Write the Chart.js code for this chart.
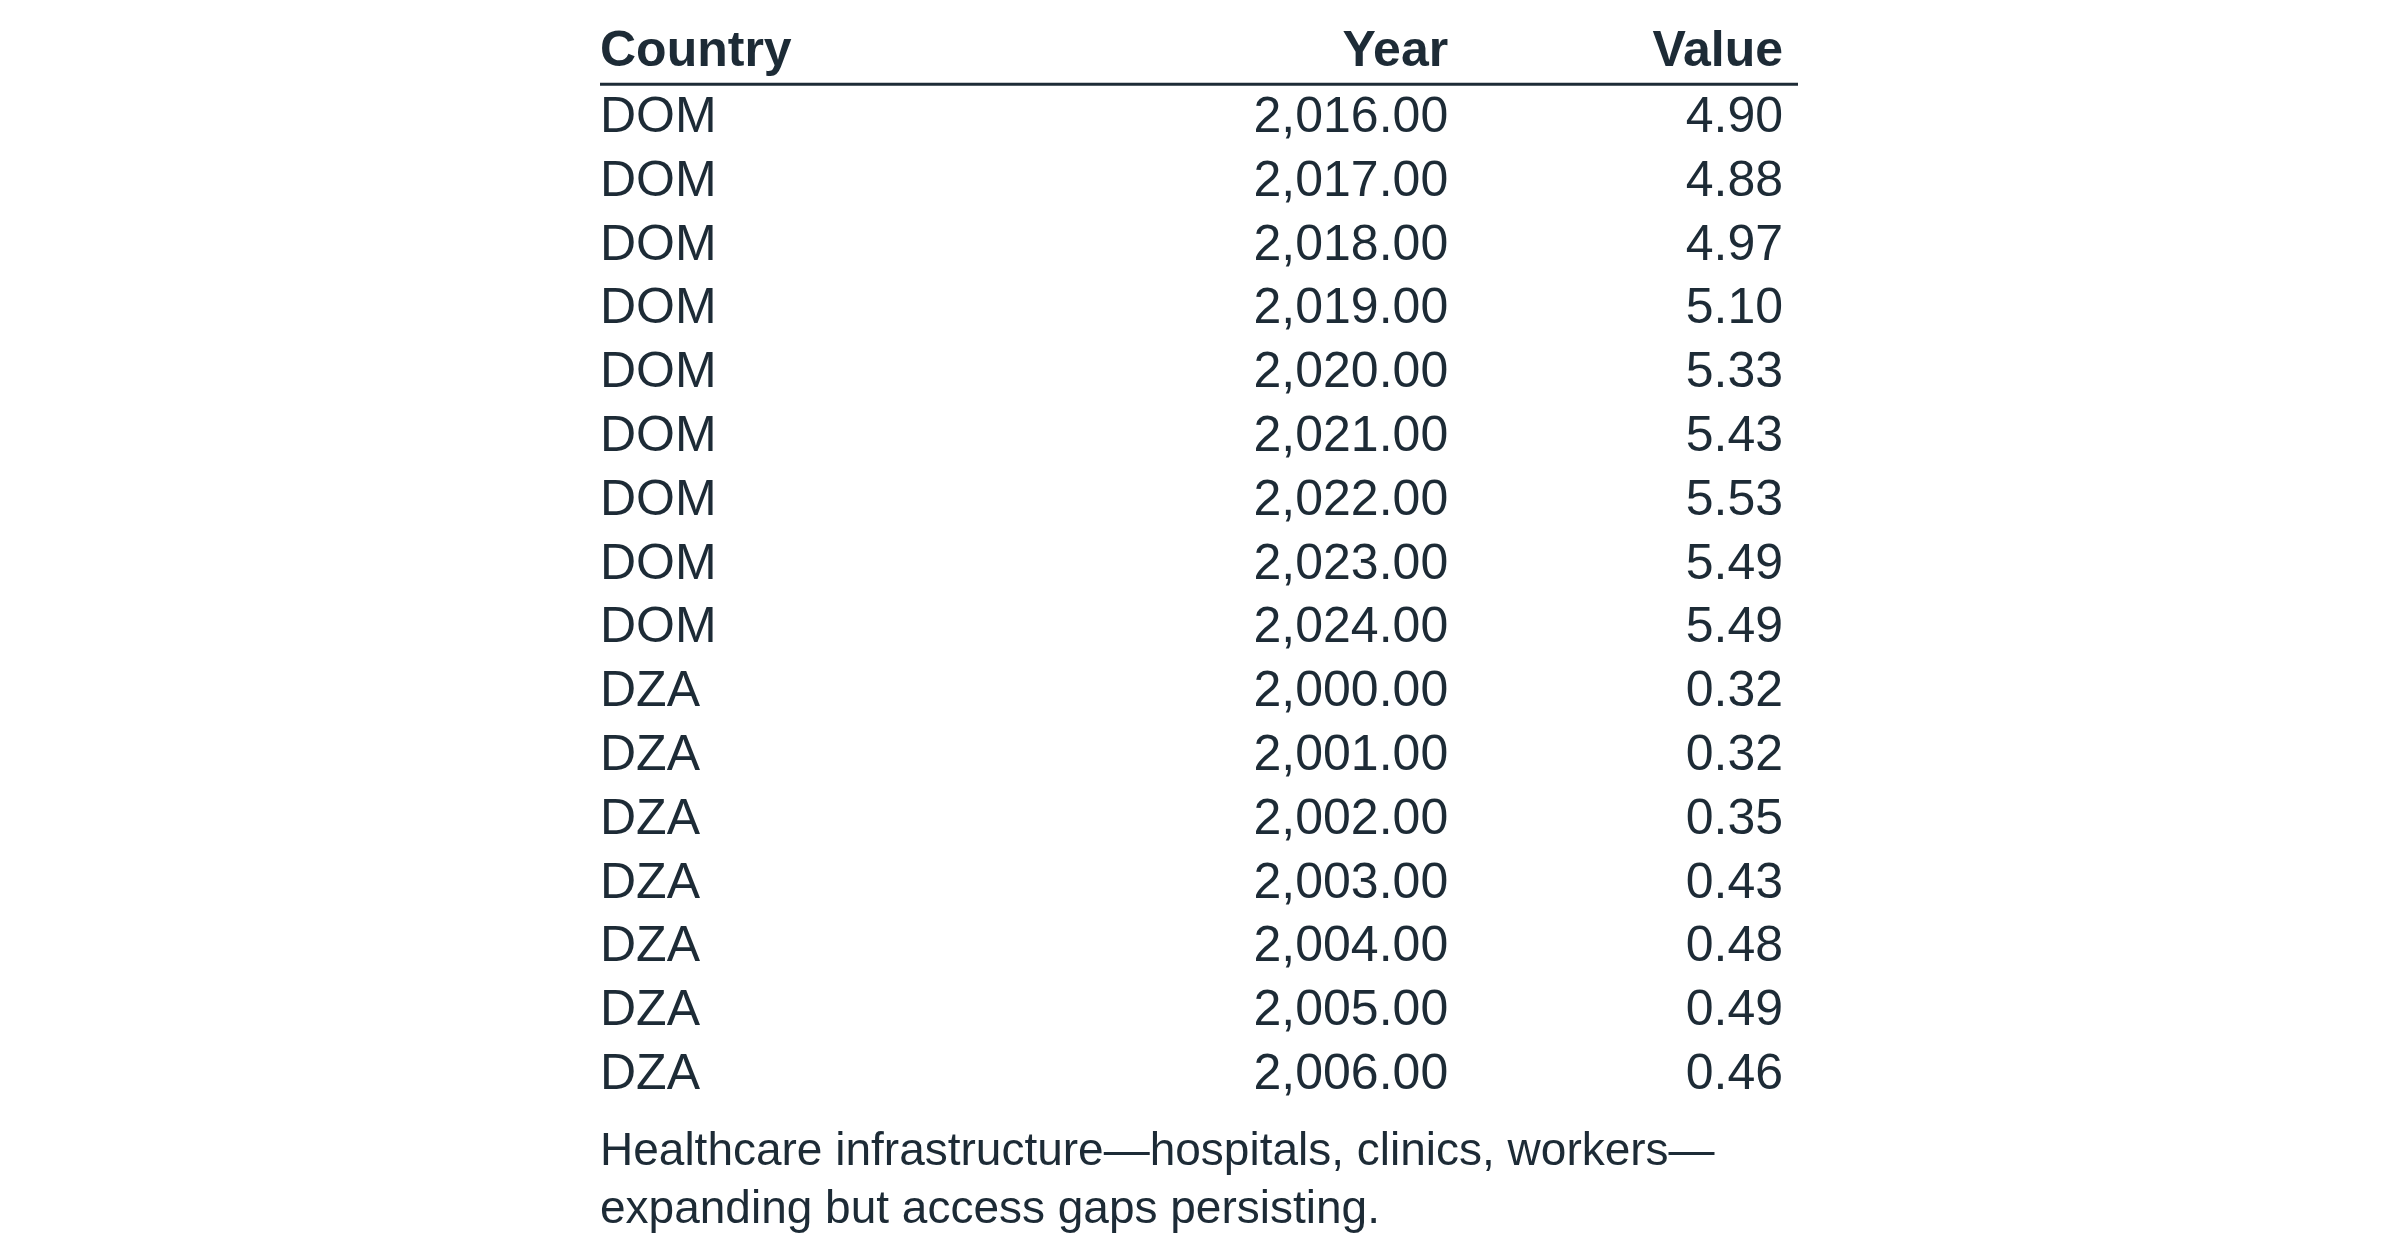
<!DOCTYPE html>
<html>
<head>
<meta charset="utf-8">
<style>
  html, body { margin: 0; padding: 0; background: #fff; }
  canvas { display: block; }
</style>
<script src="https://cdn.jsdelivr.net/npm/chart.js@4"></script>
</head>
<body>
<canvas id="c" width="2400" height="1256"></canvas>
<script>
const headers   = ['Country', 'Year', 'Value'];
const countries = ['DOM','DOM','DOM','DOM','DOM','DOM','DOM','DOM','DOM',
                   'DZA','DZA','DZA','DZA','DZA','DZA','DZA'];
const years     = [2016, 2017, 2018, 2019, 2020, 2021, 2022, 2023, 2024,
                   2000, 2001, 2002, 2003, 2004, 2005, 2006];
const values    = [4.90, 4.88, 4.97, 5.10, 5.33, 5.43, 5.53, 5.49, 5.49,
                   0.32, 0.32, 0.35, 0.43, 0.48, 0.49, 0.46];
const caption   = ['Healthcare infrastructure\u2014hospitals, clinics, workers\u2014',
                   'expanding but access gaps persisting.'];

const INK = '#1d2b36';
const FONT = '"Liberation Sans", Arial, sans-serif';
const fmt = v => v.toLocaleString('en-US', { minimumFractionDigits: 2, maximumFractionDigits: 2 });

// column anchors on the x scale (0..1 across the table width)
const columns = [
  { x: 0,      align: 'left',  cell: i => countries[i] },
  { x: 0.708,  align: 'right', cell: i => fmt(years[i]) },
  { x: 0.9875, align: 'right', cell: i => fmt(values[i]) },
];

const tablePlugin = {
  id: 'table',
  afterDraw(chart) {
    const { ctx, scales: { x, y }, chartArea } = chart;
    ctx.save();
    ctx.fillStyle = INK;
    ctx.textBaseline = 'middle';

    // header
    ctx.font = 'bold 50px ' + FONT;
    const hy = y.getPixelForValue(-1.03);
    headers.forEach((h, c) => {
      ctx.textAlign = columns[c].align;
      ctx.fillText(h, x.getPixelForValue(columns[c].x), hy);
    });

    // rule under header
    ctx.strokeStyle = INK;
    ctx.lineWidth = 3;
    ctx.beginPath();
    const ly = y.getPixelForValue(-0.53);
    ctx.moveTo(chartArea.left, ly);
    ctx.lineTo(chartArea.right, ly);
    ctx.stroke();

    // body
    ctx.font = '50px ' + FONT;
    countries.forEach((_, i) => {
      const py = y.getPixelForValue(i);
      columns.forEach(col => {
        ctx.textAlign = col.align;
        ctx.fillText(col.cell(i), x.getPixelForValue(col.x), py);
      });
    });

    // caption
    ctx.font = '46px ' + FONT;
    ctx.textAlign = 'left';
    const last = y.getPixelForValue(countries.length - 1);
    caption.forEach((line, k) => {
      ctx.fillText(line, chartArea.left, last + 77 + k * 58);
    });
    ctx.restore();
  }
};

new Chart(document.getElementById('c'), {
  type: 'scatter',
  data: {
    datasets: [{
      data: countries.map((_, i) => ({ x: 0, y: i })),
      pointRadius: 0,
      showLine: false,
    }]
  },
  options: {
    responsive: false,
    animation: false,
    layout: { padding: { left: 600, right: 602, top: 48, bottom: 117 } },
    plugins: { legend: { display: false }, tooltip: { enabled: false } },
    scales: {
      x: { type: 'linear', min: 0, max: 1, display: false },
      y: { type: 'linear', min: -1.1, max: 16, reverse: true, display: false },
    }
  },
  plugins: [tablePlugin]
});
</script>
</body>
</html>
